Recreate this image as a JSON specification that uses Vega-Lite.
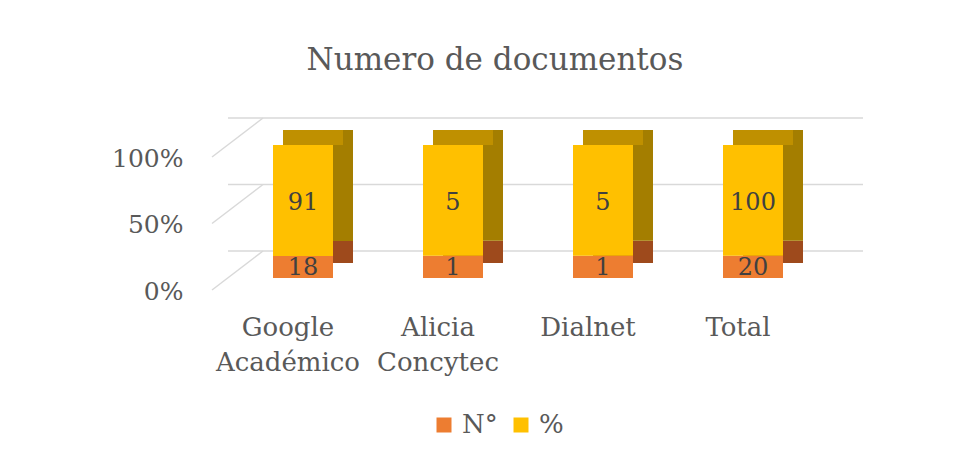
{
  "$schema": "https://vega.github.io/schema/vega-lite/v6.json",
  "width": 600,
  "height": 133,
  "autosize": "none",
  "padding": {"left": 228, "top": 145, "right": 140, "bottom": 183},
  "background": "white",
  "title": {
    "text": "Numero de documentos",
    "font": "DejaVu Serif",
    "fontSize": 31,
    "fontWeight": "normal",
    "color": "#595959",
    "offset": 40,
    "dx": -33
  },
  "datasets": {
    "docs": [
      {"cat": "Google Académico", "serie": "N°", "orden": 1, "valor": 18},
      {"cat": "Google Académico", "serie": "%", "orden": 2, "valor": 91},
      {"cat": "Alicia Concytec", "serie": "N°", "orden": 1, "valor": 1},
      {"cat": "Alicia Concytec", "serie": "%", "orden": 2, "valor": 5},
      {"cat": "Dialnet", "serie": "N°", "orden": 1, "valor": 1},
      {"cat": "Dialnet", "serie": "%", "orden": 2, "valor": 5},
      {"cat": "Total", "serie": "N°", "orden": 1, "valor": 20},
      {"cat": "Total", "serie": "%", "orden": 2, "valor": 100}
    ],
    "grid": [{"g": 0}, {"g": 0.5}, {"g": 1}]
  },
  "layer": [
    {
      "data": {"name": "grid"},
      "mark": {"type": "rule", "color": "#D9D9D9", "strokeWidth": 1.5, "yOffset": -27, "y2Offset": -27, "xOffset": 35, "x2Offset": 34},
      "encoding": {
        "y": {"field": "g", "type": "quantitative", "scale": {"domain": [0, 1]}, "axis": {"values": [0, 0.5, 1], "format": "%", "grid": false, "domain": false, "ticks": false, "labelFont": "DejaVu Serif", "labelFontSize": 25, "labelColor": "#595959", "labelPadding": 45, "labelOffset": 13, "title": null}}
      }
    },
    {
      "data": {"name": "grid"},
      "mark": {"type": "rule", "color": "#D9D9D9", "strokeWidth": 1.5, "xOffset": -91, "x2Offset": -40, "yOffset": 12, "y2Offset": -27},
      "encoding": {
        "y": {"field": "g", "type": "quantitative", "scale": {"domain": [0, 1]}},
        "y2": {"field": "g"},
        "x": {"datum": "Google Académico", "type": "nominal"},
        "x2": {"datum": "Google Académico"}
      }
    },
    {
      "data": {"name": "docs"},
      "transform": [
        {"stack": "valor", "groupby": ["cat"], "sort": [{"field": "orden", "order": "ascending"}], "offset": "normalize", "as": ["y0", "y1"]}
      ],
      "mark": {"type": "bar", "xOffset": 20, "x2Offset": 20, "yOffset": -15, "y2Offset": -15},
      "encoding": {
        "x": {"field": "cat", "type": "nominal"},
        "y": {"field": "y0", "type": "quantitative", "scale": {"domain": [0, 1]}},
        "y2": {"field": "y1"},
        "fill": {"field": "serie", "type": "nominal", "scale": {"domain": ["N°", "%"], "range": ["#9E4A1C", "#A47E00"]}, "legend": null}
      }
    },
    {
      "data": {"name": "docs"},
      "transform": [
        {"stack": "valor", "groupby": ["cat"], "sort": [{"field": "orden", "order": "ascending"}], "offset": "normalize", "as": ["y0", "y1"]},
        {"filter": "datum.serie == '%'"}
      ],
      "mark": {"type": "bar", "color": "#BF9000", "xOffset": 10, "x2Offset": 10, "yOffset": -15, "y2Offset": 0},
      "encoding": {
        "x": {"field": "cat", "type": "nominal"},
        "y": {"field": "y1", "type": "quantitative", "scale": {"domain": [0, 1]}},
        "y2": {"field": "y1"}
      }
    },
    {
      "data": {"name": "docs"},
      "transform": [
        {"stack": "valor", "groupby": ["cat"], "sort": [{"field": "orden", "order": "ascending"}], "offset": "normalize", "as": ["y0", "y1"]}
      ],
      "mark": {"type": "bar"},
      "encoding": {
        "x": {
          "field": "cat",
          "type": "nominal",
          "scale": {"domain": ["Google Académico", "Alicia Concytec", "Dialnet", "Total"], "paddingInner": 0.6, "paddingOuter": 0.3},
          "axis": {"title": null, "domain": false, "ticks": false, "labelAngle": 0, "labelAlign": "center", "labelFont": "DejaVu Serif", "labelFontSize": 26, "labelColor": "#595959", "labelPadding": 36, "labelOffset": -15, "labelLineHeight": 35, "labelBaseline": "top", "labelExpr": "split(datum.label, ' ')"}
        },
        "y": {"field": "y0", "type": "quantitative", "scale": {"domain": [0, 1]}},
        "y2": {"field": "y1"},
        "color": {
          "field": "serie",
          "type": "nominal",
          "scale": {"domain": ["N°", "%"], "range": ["#ED7D31", "#FFC000"]},
          "legend": {"title": null, "orient": "none", "legendX": 203, "legendY": 267, "direction": "horizontal", "symbolType": "square", "symbolSize": 225, "symbolStrokeWidth": 0, "labelFont": "DejaVu Serif", "labelFontSize": 26, "labelColor": "#595959", "labelOffset": 5, "columnPadding": 10, "padding": 0}
        }
      }
    },
    {
      "data": {"name": "docs"},
      "transform": [
        {"stack": "valor", "groupby": ["cat"], "sort": [{"field": "orden", "order": "ascending"}], "offset": "normalize", "as": ["y0", "y1"]},
        {"filter": "datum.serie == '%'"}
      ],
      "mark": {"type": "text", "font": "DejaVu Serif", "fontSize": 24, "color": "#404040", "baseline": "middle", "yOffset": 58},
      "encoding": {
        "x": {"field": "cat", "type": "nominal"},
        "y": {"field": "y1", "type": "quantitative", "scale": {"domain": [0, 1]}},
        "text": {"field": "valor", "type": "quantitative"}
      }
    },
    {
      "data": {"name": "docs"},
      "transform": [
        {"stack": "valor", "groupby": ["cat"], "sort": [{"field": "orden", "order": "ascending"}], "offset": "normalize", "as": ["y0", "y1"]},
        {"filter": "datum.serie == 'N°'"}
      ],
      "mark": {"type": "text", "font": "DejaVu Serif", "fontSize": 24, "color": "#404040", "baseline": "middle", "yOffset": -10},
      "encoding": {
        "x": {"field": "cat", "type": "nominal"},
        "y": {"field": "y0", "type": "quantitative", "scale": {"domain": [0, 1]}},
        "text": {"field": "valor", "type": "quantitative"}
      }
    }
  ],
  "resolve": {"scale": {"fill": "independent"}},
  "config": {"view": {"stroke": null}}
}
